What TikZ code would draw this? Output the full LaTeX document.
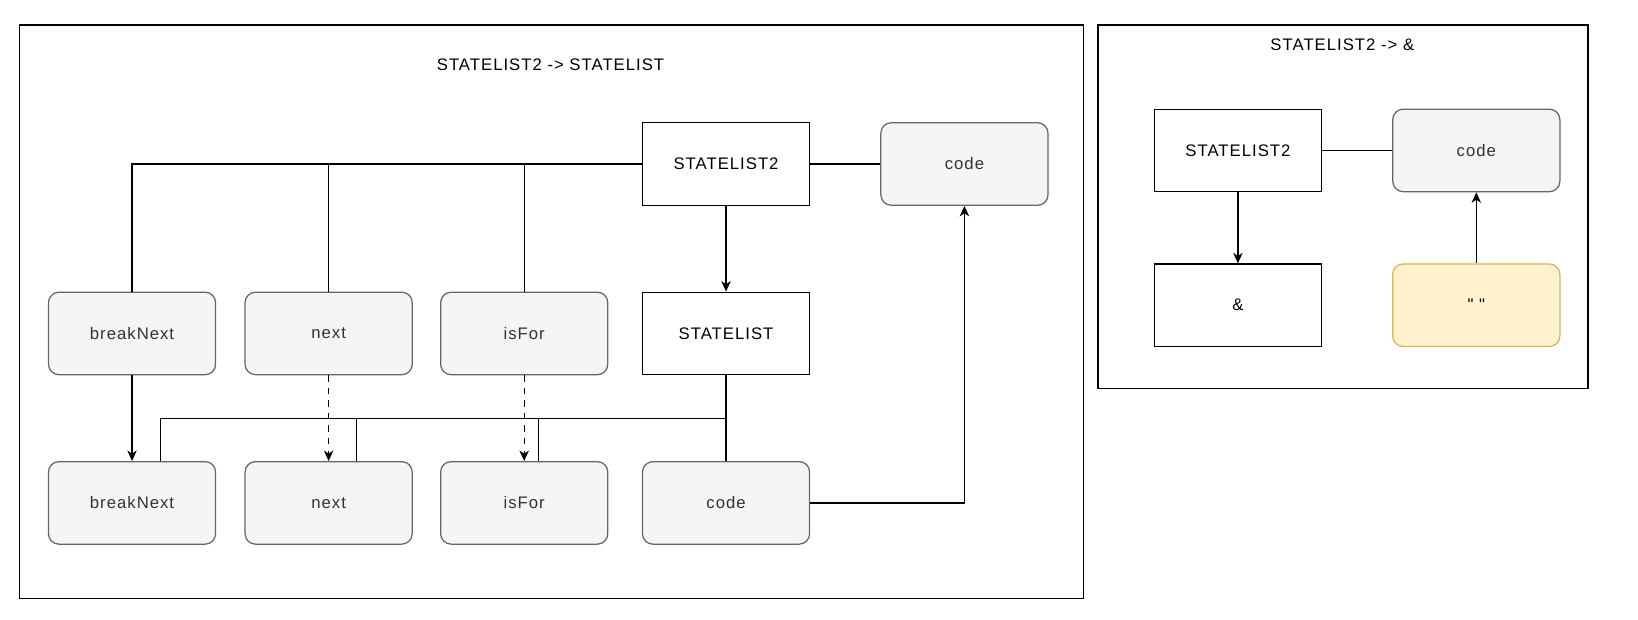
\documentclass[tikz,border=0pt]{standalone}
\usepackage{fontspec}
\setmainfont{Liberation Sans}
\newfontfamily\diofont{Liberation Sans}[LetterSpace=6]
\usepackage{xcolor}
\usepackage{tikz}
\usetikzlibrary{positioning,arrows.meta,calc}
\definecolor{grayfill}{HTML}{F5F5F5}
\definecolor{grayline}{HTML}{666666}
\definecolor{yelfill}{HTML}{FFF2CC}
\definecolor{yelline}{HTML}{D6B656}
\tikzset{
  box/.style={draw, line width=0.6pt, minimum height=39.5pt, minimum width=80pt, font=\diofont\fontsize{8}{9}\selectfont, align=center, fill=white},
  gbox/.style={box, rounded corners=5pt, draw=grayline, fill=grayfill, text=black!80},
  ybox/.style={box, rounded corners=5pt, draw=yelline, fill=yelfill},
  frame/.style={draw, line width=0.6pt, inner sep=0pt},
  ttl/.style={font=\diofont\fontsize{8}{9}\selectfont},
  ln/.style={line width=0.6pt},
  arr/.style={-{Stealth[length=5pt, width=4.5pt, inset=1.5pt]}, line width=0.6pt},
}
\begin{document}
\begin{tikzpicture}[x=0.5pt, y=-0.5pt, node distance=13pt]
\useasboundingbox (0,0) rectangle (1568,593);
% frames
\node[frame, minimum width=509pt, minimum height=274.5pt] (lframe) at (528,298.5) {};
\node[frame, minimum width=234.5pt, minimum height=174pt] (rframe) at (1285.5,198) {};
\node[ttl] (ltitle) at (527,62) {STATELIST2 -> STATELIST};
\node[ttl] (rtitle) at (1285,43) {STATELIST2 -> \&};
% left rule
\node[box] (sl2) at (695,157) {STATELIST2};
\node[gbox, right=33.5pt of sl2] (code1) {code};
\node[box, below=41pt of sl2] (sl) {STATELIST};
\node[gbox, left=16pt of sl] (isfor1) {isFor};
\node[gbox, left=of isfor1] (next1) {next};
\node[gbox, left=13.5pt of next1] (brk1) {breakNext};
\node[gbox, below=41pt of sl] (code2) {code};
\node[gbox, below=41pt of isfor1] (isfor2) {isFor};
\node[gbox, below=41pt of next1] (next2) {next};
\node[gbox, below=41pt of brk1] (brk2) {breakNext};
\coordinate (jn) at ($(sl.south)!0.5!(code2.north)$);
\foreach \b in {brk1,next1,isfor1} \draw[ln] (sl2.west) -| (\b.north);
\draw[ln] (sl2) -- (code1);
\draw[arr] (sl2) -- (sl);
\draw[arr] (brk1) -- (brk2);
\draw[arr, dashed] (next1) -- (next2);
\draw[arr, dashed] (isfor1) -- (isfor2);
\draw[ln] (sl.south) -- (jn) -| ([xshift=13.5pt]brk2.north);
\draw[ln] (jn) -| ([xshift=13.5pt]next2.north);
\draw[ln] (jn) -| ([xshift=7pt]isfor2.north);
\draw[ln] (jn) -- (code2.north);
\draw[arr] (code2.east) -| (code1.south);
% right rule
\node[box] (rsl2) at (1185,144) {STATELIST2};
\node[gbox, right=33.5pt of rsl2] (rcode) {code};
\node[box, below=34pt of rsl2] (ramp) {\&};
\node[ybox, below=34pt of rcode] (rempty) {" "};
\draw[ln] (rsl2) -- (rcode);
\draw[arr] (rsl2) -- (ramp);
\draw[arr] (rempty) -- (rcode);
\end{tikzpicture}
\end{document}
